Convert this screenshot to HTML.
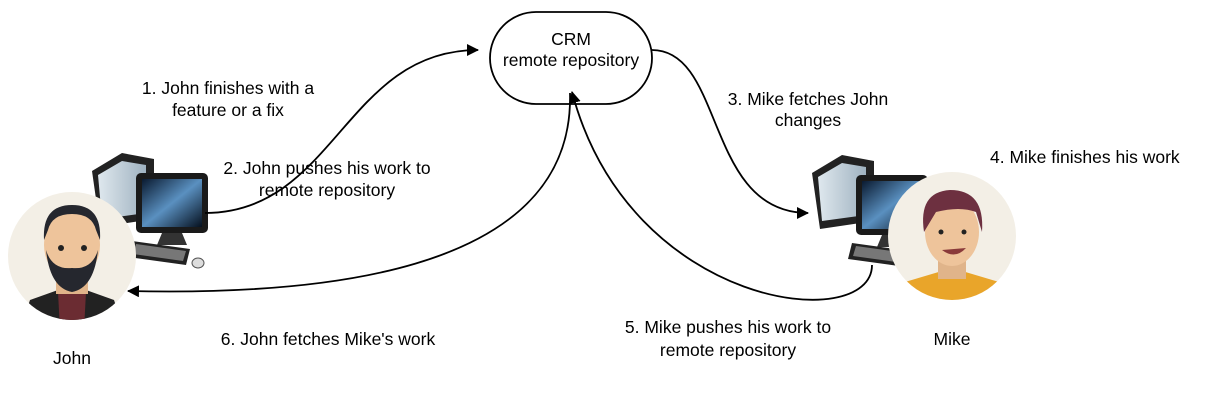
<!DOCTYPE html>
<html><head><meta charset="utf-8"><style>
html,body{margin:0;padding:0;background:#fff;}
svg{display:block;font-family:"Liberation Sans",sans-serif;font-size:17.5px;}
</style></head><body>
<svg width="1208" height="407" viewBox="0 0 1208 407">
<defs>
<marker id="a" markerWidth="12" markerHeight="12" refX="11" refY="6" orient="auto" markerUnits="userSpaceOnUse">
<path d="M0,0 L12,6 L0,12 Z" fill="#000"/></marker>
<linearGradient id="scr" x1="0" y1="0" x2="1" y2="1"><stop offset="0" stop-color="#0a1a30"/><stop offset="0.5" stop-color="#5a90c0"/><stop offset="1" stop-color="#05101e"/></linearGradient>
<linearGradient id="tw" x1="0" y1="0" x2="1" y2="0"><stop offset="0" stop-color="#dfe8ee"/><stop offset="1" stop-color="#9fb2c0"/></linearGradient>
<g id="pc">
<path d="M0,18 L30,0 L62,6 L62,66 L8,74 Z" fill="#222"/>
<path d="M6,22 L30,8 L54,12 L54,60 L10,66 Z" fill="url(#tw)"/>
<rect x="44" y="20" width="72" height="60" rx="5" fill="#1a1a1a"/>
<rect x="50" y="26" width="60" height="48" fill="url(#scr)"/>
<path d="M70,80 L90,80 L95,92 L65,92 Z" fill="#333"/>
<path d="M40,88 L98,96 L94,112 L36,104 Z" fill="#222"/>
<path d="M44,91 L94,98 L91,108 L41,101 Z" fill="#777"/>
<ellipse cx="106" cy="110" rx="6" ry="5" fill="#ddd" stroke="#555"/>
</g>
</defs>

<rect x="490" y="12" width="162" height="92" rx="46" fill="#fff" stroke="#000" stroke-width="1.8"/>
<text x="571" y="45" text-anchor="middle">CRM</text>
<text x="571" y="66" text-anchor="middle">remote repository</text>

<use href="#pc" x="92" y="153"/>
<use href="#pc" x="812" y="155"/>

<circle cx="72" cy="256" r="64" fill="#f3efe6"/>
<clipPath id="cj"><circle cx="72" cy="256" r="64"/></clipPath>
<g clip-path="url(#cj)">
<path d="M20,330 L30,300 L72,285 L114,300 L124,330 Z" fill="#222"/>
<path d="M58,292 L86,292 L84,330 L60,330 Z" fill="#6b2c32"/>
<rect x="56" y="270" width="32" height="24" fill="#e0b48a"/>
<ellipse cx="72" cy="245" rx="28" ry="34" fill="#eec49b"/>
<path d="M44,240 Q42,205 72,205 Q102,205 100,240 L96,230 Q92,214 72,214 Q52,214 48,230 Z" fill="#25272e"/>
<path d="M46,250 Q50,288 72,292 Q94,288 98,250 Q92,270 72,268 Q52,270 46,250 Z" fill="#25272e"/>
<circle cx="61" cy="248" r="3" fill="#222"/><circle cx="84" cy="248" r="3" fill="#222"/>
</g>
<circle cx="952" cy="236" r="64" fill="#f3efe6"/>
<clipPath id="cm"><circle cx="952" cy="236" r="64"/></clipPath>
<g clip-path="url(#cm)">
<path d="M895,310 L905,282 L952,268 L999,282 L1009,310 Z" fill="#e9a52a"/>
<rect x="938" y="255" width="28" height="24" fill="#e0b48a"/>
<ellipse cx="952" cy="232" rx="27" ry="34" fill="#eec49b"/>
<path d="M924,232 Q918,192 950,190 Q985,190 982,232 L976,212 Q960,206 936,212 Z" fill="#6d3040"/>
<circle cx="941" cy="232" r="2.5" fill="#222"/><circle cx="964" cy="232" r="2.5" fill="#222"/>
<path d="M942,250 Q955,260 966,248" fill="#8a3a3a"/>
</g>

<g fill="none" stroke="#000" stroke-width="1.8">
<path d="M205,213 C335,213 345,50 478,50" marker-end="url(#a)"/>
<path d="M652,50 C725,50 705,213 808,213" marker-end="url(#a)"/>
<path d="M570,93 C575,280 300,295 128,291" marker-end="url(#a)"/>
<path d="M872,265 C872,335 630,310 572,92" marker-end="url(#a)"/>
</g>

<g fill="#000">
<text x="228" y="94" text-anchor="middle">1. John finishes with a</text>
<text x="228" y="116" text-anchor="middle">feature or a fix</text>
<text x="327" y="174" text-anchor="middle">2. John pushes his work to</text>
<text x="327" y="196" text-anchor="middle">remote repository</text>
<text x="808" y="105" text-anchor="middle">3. Mike fetches John</text>
<text x="808" y="126" text-anchor="middle">changes</text>
<text x="990" y="163">4. Mike finishes his work</text>
<text x="328" y="345" text-anchor="middle">6. John fetches Mike's work</text>
<text x="728" y="333" text-anchor="middle">5. Mike pushes his work to</text>
<text x="728" y="356" text-anchor="middle">remote repository</text>
<text x="72" y="364" text-anchor="middle">John</text>
<text x="952" y="345" text-anchor="middle">Mike</text>
</g>
</svg>
</body></html>
